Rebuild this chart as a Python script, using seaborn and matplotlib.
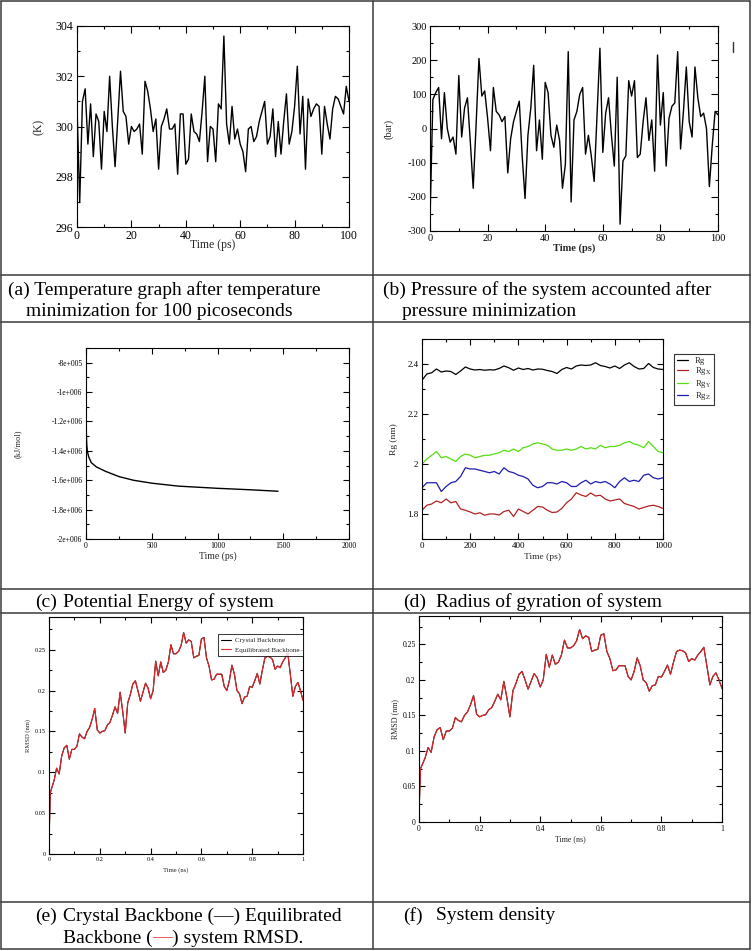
import numpy as np
import pandas as pd
import matplotlib
matplotlib.use("Agg")
import matplotlib.pyplot as plt
import seaborn as sns
from matplotlib.lines import Line2D
from matplotlib.ticker import MultipleLocator, FixedLocator, FixedFormatter, FuncFormatter

W, H = 752, 951

# (a) temperature, 1 ps steps
temp_time = list(range(0, 101))
temp_k = [300.8, 297.0, 301.0, 301.5, 299.3, 300.9, 298.8, 300.5, 300.2, 298.3,
          300.6, 299.8, 302.0, 300.0, 298.4, 300.3, 302.2, 300.6, 300.4, 299.3,
          300.0, 299.8, 299.9, 300.1, 298.9, 301.8, 301.4, 300.7, 299.8, 300.3,
          298.3, 300.0, 300.3, 300.7, 299.9, 299.9, 300.1, 298.1, 300.5, 300.5,
          298.5, 298.7, 300.5, 299.8, 299.7, 299.4, 300.6, 302.0, 298.6, 300.0,
          299.9, 298.6, 300.9, 300.7, 303.6, 300.1, 299.3, 300.8, 299.5, 299.9,
          299.3, 299.0, 298.2, 299.9, 300.0, 299.4, 299.6, 300.2, 300.6, 301.0,
          299.3, 299.6, 300.7, 298.8, 300.2, 298.9, 300.2, 301.3, 299.3, 299.8,
          300.8, 302.4, 299.7, 301.2, 298.3, 301.1, 300.4, 300.7, 300.9, 300.8,
          298.9, 300.8, 300.1, 299.5, 300.7, 301.2, 301.1, 300.8, 300.5, 301.6,
          301.0]

# (b) pressure, 1 ps steps
press_time = list(range(0, 101))
press_bar = [-270, 85, 105, 120, -30, 105, 0, -40, -25, -75,
             155, -25, 60, 90, -40, -175, 10, 205, 95, 110,
             30, -65, 120, 50, 40, 20, 35, -130, -30, 20,
             50, 80, -80, -205, -20, 60, 185, -65, 25, -90,
             135, 105, -20, -55, 10, -35, -175, -105, 225, -215,
             25, 50, 100, 120, -75, -20, -80, -155, 40, 235,
             -70, 45, 90, -20, -110, 150, -280, -95, -80, 140,
             95, 140, -85, -75, 20, 90, -35, 25, -125, 215,
             10, 105, -110, 30, 65, 75, 225, -60, 50, 180,
             20, -25, 180, 90, 35, 45, 0, -170, -50, 50,
             40]

# (c) potential energy
pot_time = [0, 1, 3, 6, 10, 20, 40, 80, 150, 250, 360, 500, 700, 1000, 1250, 1460]
pot_energy = [-7.5e5, -1.15e6, -1.30e6, -1.36e6, -1.40e6, -1.44e6, -1.48e6, -1.51e6,
              -1.54e6, -1.575e6, -1.60e6, -1.62e6, -1.64e6, -1.655e6, -1.665e6, -1.675e6]
pot_ticks = [-2e6, -1.8e6, -1.6e6, -1.4e6, -1.2e6, -1e6, -8e5]
pot_labels = ["-2e+006", "-1.8e+006", "-1.6e+006", "-1.4e+006", "-1.2e+006", "-1e+006", "-8e+005"]

# (d) radius of gyration, 20 ps steps
rg_time = list(range(0, 1001, 20))
rg_total = [2.335, 2.360, 2.365, 2.380, 2.368, 2.372, 2.370, 2.358, 2.372, 2.388,
            2.380, 2.376, 2.378, 2.375, 2.377, 2.376, 2.382, 2.392, 2.385, 2.375,
            2.384, 2.378, 2.382, 2.376, 2.380, 2.379, 2.374, 2.370, 2.362, 2.378,
            2.386, 2.380, 2.392, 2.396, 2.394, 2.396, 2.405, 2.394, 2.390, 2.384,
            2.392, 2.382, 2.396, 2.405, 2.390, 2.380, 2.382, 2.402, 2.386, 2.380, 2.378]
rg_x = [1.815, 1.835, 1.840, 1.852, 1.845, 1.860, 1.845, 1.850, 1.820, 1.815,
        1.808, 1.800, 1.805, 1.795, 1.800, 1.800, 1.796, 1.810, 1.815, 1.790,
        1.820, 1.810, 1.800, 1.815, 1.830, 1.828, 1.815, 1.806, 1.808, 1.822,
        1.845, 1.860, 1.885, 1.876, 1.870, 1.884, 1.872, 1.875, 1.860, 1.852,
        1.856, 1.860, 1.842, 1.836, 1.830, 1.820, 1.826, 1.832, 1.835, 1.830, 1.822]
rg_y = [2.000, 2.020, 2.035, 2.050, 2.025, 2.030, 2.020, 2.010, 2.030, 2.040,
        2.035, 2.025, 2.030, 2.035, 2.035, 2.040, 2.045, 2.055, 2.050, 2.060,
        2.050, 2.065, 2.070, 2.080, 2.085, 2.080, 2.075, 2.060, 2.055, 2.055,
        2.060, 2.055, 2.060, 2.070, 2.060, 2.065, 2.060, 2.075, 2.065, 2.070,
        2.070, 2.075, 2.085, 2.090, 2.080, 2.075, 2.065, 2.090, 2.070, 2.050, 2.045]
rg_z = [1.905, 1.925, 1.925, 1.925, 1.890, 1.910, 1.925, 1.930, 1.950, 1.985,
        1.980, 1.980, 1.975, 1.970, 1.965, 1.970, 1.960, 1.985, 1.970, 1.965,
        1.955, 1.950, 1.940, 1.915, 1.905, 1.910, 1.925, 1.925, 1.920, 1.930,
        1.925, 1.910, 1.910, 1.925, 1.935, 1.920, 1.930, 1.925, 1.930, 1.920,
        1.905, 1.930, 1.945, 1.930, 1.935, 1.930, 1.955, 1.960, 1.945, 1.940, 1.945]
rg_labels = ["Rg", r"Rg$_{\mathrm{X}}$", r"Rg$_{\mathrm{Y}}$", r"Rg$_{\mathrm{Z}}$"]
rg_colors = ["black", "#b22222", "#55dd11", "#1c1cb0"]

# (e), (f) backbone RMSD
rmsd_time = [0, 0.005] + [i / 100 for i in range(1, 101)]
rmsd_crystal = [0.012, 0.075,
                0.080, 0.090, 0.105, 0.098, 0.120, 0.130, 0.133, 0.116, 0.128, 0.128,
                0.132, 0.147, 0.143, 0.141, 0.150, 0.155, 0.165, 0.178, 0.152, 0.148,
                0.150, 0.151, 0.158, 0.161, 0.170, 0.180, 0.172, 0.198, 0.175, 0.148,
                0.185, 0.195, 0.208, 0.212, 0.200, 0.187, 0.198, 0.209, 0.203, 0.190,
                0.200, 0.236, 0.218, 0.235, 0.222, 0.225, 0.235, 0.256, 0.245, 0.245,
                0.248, 0.255, 0.271, 0.258, 0.262, 0.260, 0.240, 0.242, 0.243, 0.263,
                0.265, 0.240, 0.230, 0.213, 0.214, 0.220, 0.220, 0.220, 0.205, 0.200,
                0.212, 0.231, 0.220, 0.200, 0.196, 0.184, 0.192, 0.193, 0.205, 0.204,
                0.212, 0.221, 0.208, 0.225, 0.240, 0.242, 0.241, 0.238, 0.226, 0.230,
                0.228, 0.235, 0.240, 0.246, 0.220, 0.193, 0.205, 0.210, 0.200, 0.188]
rmsd_equilibrated = list(rmsd_crystal)

sns.set_style("ticks")
plt.rcParams["font.family"] = ["Liberation Serif", "DejaVu Serif"]
plt.rcParams["mathtext.fontset"] = "stix"
plt.rcParams["axes.unicode_minus"] = False

fig = plt.figure(figsize=(W / 100, H / 100), dpi=100)


def px_rect(x0, y0, x1, y1):
    return [x0 / W, 1 - y1 / H, (x1 - x0) / W, (y1 - y0) / H]


def grace_axes(ax, fs, major_len=5, minor_len=2.5):
    ax.tick_params(which="both", direction="in", top=True, right=True,
                   labelsize=fs, colors="black", width=0.8, pad=2.5)
    ax.tick_params(which="major", length=major_len)
    ax.tick_params(which="minor", length=minor_len)
    for s in ax.spines.values():
        s.set_linewidth(0.8)
        s.set_color("black")
        s.set_visible(True)


g_fmt = FuncFormatter(lambda v, p: f"{v:g}")

# ---- (a) temperature
ax_a = fig.add_axes(px_rect(77, 26, 349, 227))
sns.lineplot(x=temp_time, y=temp_k, ax=ax_a, color="black", linewidth=1.0, estimator=None)
ax_a.set_xlim(0, 100)
ax_a.set_ylim(296, 304)
ax_a.xaxis.set_major_locator(MultipleLocator(20))
ax_a.xaxis.set_minor_locator(MultipleLocator(10))
ax_a.yaxis.set_major_locator(MultipleLocator(2))
ax_a.yaxis.set_minor_locator(MultipleLocator(1))
grace_axes(ax_a, 8.5)
ax_a.set_xlabel("Time (ps)", fontsize=8.5)
ax_a.set_ylabel("(K)", fontsize=8.5)
ax_a.xaxis.set_label_coords(0.5, -0.062)
ax_a.yaxis.set_label_coords(-0.12, 0.5)

# ---- (b) pressure
ax_b = fig.add_axes(px_rect(430, 26, 718, 231))
sns.lineplot(x=press_time, y=press_bar, ax=ax_b, color="black", linewidth=1.0, estimator=None)
ax_b.set_xlim(0, 100)
ax_b.set_ylim(-300, 300)
ax_b.xaxis.set_major_locator(MultipleLocator(20))
ax_b.xaxis.set_minor_locator(MultipleLocator(10))
ax_b.yaxis.set_major_locator(MultipleLocator(100))
ax_b.yaxis.set_minor_locator(MultipleLocator(50))
grace_axes(ax_b, 7.5)
ax_b.set_xlabel("Time (ps)", fontsize=7.5, fontweight="bold")
ax_b.set_ylabel("(bar)", fontsize=7.5)
ax_b.xaxis.set_label_coords(0.5, -0.062)
ax_b.yaxis.set_label_coords(-0.125, 0.5)
fig.add_artist(Line2D([733 / W, 733 / W], [1 - 42 / H, 1 - 52 / H], color="#333333", lw=1.0))

# ---- (c) potential energy
ax_c = fig.add_axes(px_rect(86, 348, 349, 539))
sns.lineplot(x=pot_time, y=pot_energy, ax=ax_c, color="black", linewidth=1.0, estimator=None)
ax_c.set_xlim(0, 2000)
ax_c.set_ylim(-2e6, -7e5)
ax_c.xaxis.set_major_locator(MultipleLocator(500))
ax_c.xaxis.set_minor_locator(MultipleLocator(250))
ax_c.yaxis.set_major_locator(FixedLocator(pot_ticks))
ax_c.yaxis.set_major_formatter(FixedFormatter(pot_labels))
ax_c.yaxis.set_minor_locator(MultipleLocator(1e5))
grace_axes(ax_c, 5.5, 4, 2)
ax_c.set_xlabel("Time (ps)", fontsize=7)
ax_c.set_ylabel("(kJ/mol)", fontsize=6)
ax_c.xaxis.set_label_coords(0.5, -0.065)
ax_c.yaxis.set_label_coords(-0.245, 0.5)

# ---- (d) radius of gyration
ax_d = fig.add_axes(px_rect(422, 339, 663, 539))
for series, lab, col in zip([rg_total, rg_x, rg_y, rg_z], rg_labels, rg_colors):
    sns.lineplot(x=rg_time, y=series, ax=ax_d, color=col, linewidth=0.9,
                 estimator=None, label=lab)
ax_d.set_xlim(0, 1000)
ax_d.set_ylim(1.7, 2.5)
ax_d.xaxis.set_major_locator(MultipleLocator(200))
ax_d.xaxis.set_minor_locator(MultipleLocator(100))
ax_d.yaxis.set_major_locator(MultipleLocator(0.2))
ax_d.yaxis.set_minor_locator(MultipleLocator(0.1))
ax_d.yaxis.set_major_formatter(g_fmt)
grace_axes(ax_d, 6.5, 4, 2)
ax_d.set_xlabel("Time (ps)", fontsize=6.8)
ax_d.set_ylabel("Rg (nm)", fontsize=6.8)
ax_d.xaxis.set_label_coords(0.5, -0.068)
ax_d.yaxis.set_label_coords(-0.10, 0.5)
leg_d = ax_d.legend(loc="upper left", bbox_to_anchor=(1.046, 0.925), borderaxespad=0,
                    fontsize=6.3, handlelength=1.3, handletextpad=0.8, labelspacing=0.05,
                    frameon=True, fancybox=False, borderpad=0.3)
leg_d.get_frame().set_edgecolor("black")
leg_d.get_frame().set_linewidth(0.8)

# ---- (e) and (f) RMSD
for rect, fs, lab_xy, with_legend in [((49, 617, 303, 854), 4.5, (-0.07, -0.055), True),
                                      ((419, 616, 722, 822), 5.5, (-0.066, -0.065), False)]:
    ax = fig.add_axes(px_rect(*rect))
    sns.lineplot(x=rmsd_time, y=rmsd_crystal, ax=ax, color="black", linewidth=0.8,
                 estimator=None, label="Crystal Backbone")
    sns.lineplot(x=rmsd_time, y=rmsd_equilibrated, ax=ax, color="#e8262a", linewidth=0.8,
                 estimator=None, label="Equilibrated Backbone")
    ax.set_xlim(0, 1)
    ax.set_ylim(0, 0.29)
    ax.xaxis.set_major_locator(MultipleLocator(0.2))
    ax.xaxis.set_minor_locator(MultipleLocator(0.1))
    ax.yaxis.set_major_locator(MultipleLocator(0.05))
    ax.yaxis.set_minor_locator(MultipleLocator(0.025))
    ax.xaxis.set_major_formatter(g_fmt)
    ax.yaxis.set_major_formatter(g_fmt)
    grace_axes(ax, fs, 4, 2)
    ax.set_xlabel("Time (ns)", fontsize=fs + 0.3)
    ax.set_ylabel("RMSD (nm)", fontsize=fs + 0.3)
    ax.xaxis.set_label_coords(0.5, lab_xy[1])
    ax.yaxis.set_label_coords(lab_xy[0], 0.5)
    if with_legend:
        leg = ax.legend(loc="upper right", bbox_to_anchor=(1.0, 0.928), borderaxespad=0,
                        fontsize=5, handlelength=1.4, handletextpad=0.6, labelspacing=0.5,
                        frameon=True, fancybox=False, borderpad=0.5)
        leg.get_frame().set_edgecolor("black")
        leg.get_frame().set_linewidth(0.7)
    else:
        ax.get_legend().remove()

# ---- table grid
grid_col = "#3a3a3a"
for y in [1, 275, 322, 589, 613, 902, 949]:
    fig.add_artist(Line2D([1 / W, 750 / W], [1 - y / H, 1 - y / H], color=grid_col, lw=1.1))
for x in [1, 373, 750]:
    fig.add_artist(Line2D([x / W, x / W], [1 - 1 / H, 1 - 949 / H], color=grid_col, lw=1.1))

# ---- captions
cap_fs = 14


def caption(x, y, s, color="black"):
    return fig.text(x / W, 1 - y / H, s, fontsize=cap_fs, color=color, va="center", ha="left")


caption(8, 290, "(a) Temperature graph after temperature")
caption(26, 311, "minimization for 100 picoseconds")
caption(383, 290, "(b) Pressure of the system accounted after")
caption(402, 311, "pressure minimization")
caption(35, 602, "(c)")
caption(63, 602, "Potential Energy of system")
caption(403, 602, "(d)")
caption(436, 602, "Radius of gyration of system")
caption(35, 916, "(e)")
caption(63, 916, "Crystal Backbone (—) Equilibrated")
caption(403, 916, "(f)")
caption(436, 916, "System density")

renderer = fig.canvas.get_renderer()
x_cur = 63
for part, col in [("Backbone (", "black"), ("—", "#e8262a"), (") system RMSD.", "black")]:
    t = caption(x_cur, 938, part, col)
    x_cur += t.get_window_extent(renderer).width

fig.savefig("out.png", dpi=100)
